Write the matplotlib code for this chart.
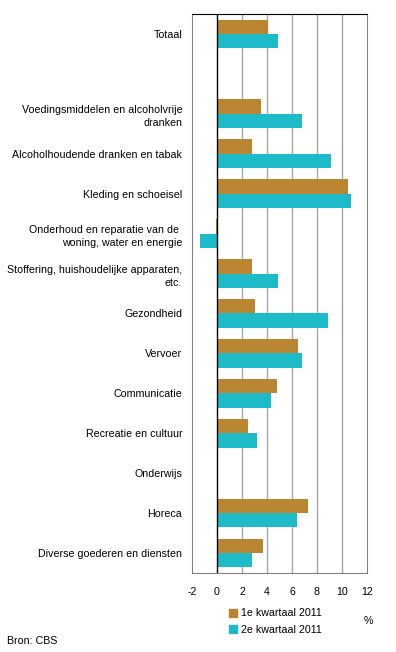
import matplotlib
matplotlib.use("Agg")
import matplotlib.pyplot as plt
from matplotlib.patches import Patch
import numpy as np

plt.rcParams['font.family'] = ['Liberation Sans', 'DejaVu Sans']

categories = ['Totaal', '',
              'Voedingsmiddelen en alcoholvrije\ndranken',
              'Alcoholhoudende dranken en tabak',
              'Kleding en schoeisel',
              'Onderhoud en reparatie van de \nwoning, water en energie',
              'Stoffering, huishoudelijke apparaten,\netc.',
              'Gezondheid',
              'Vervoer',
              'Communicatie',
              'Recreatie en cultuur',
              'Onderwijs',
              'Horeca',
              'Diverse goederen en diensten']
q1 = [4.1, 0, 3.5, 2.8, 10.5, -0.1, 2.8, 3.0, 6.5, 4.8, 2.5, 0, 7.3, 3.7]
q2 = [4.9, 0, 6.8, 9.1, 10.7, -1.4, 4.9, 8.9, 6.8, 4.3, 3.2, 0, 6.4, 2.8]
series_names = ['1e kwartaal 2011', '2e kwartaal 2011']
xticks = [-2, 0, 2, 4, 6, 8, 10, 12]

brown = '#BA8530'
teal = '#1DBBC7'
fs = 7.7

fig = plt.figure(figsize=(3.96, 6.52), dpi=100)
ax = fig.add_axes([192/396, 1-573/652, 175/396, 559/652])

y = np.arange(len(categories))
h = 0.36
ax.barh(y - h/2, q1, height=h, color=brown, zorder=3)
ax.barh(y + h/2, q2, height=h, color=teal, zorder=3)

ax.set_xlim(-2, 12)
ax.set_ylim(len(categories) - 0.5, -0.5)
ax.set_xticks(xticks)
ax.set_xticklabels([str(t) for t in xticks], fontsize=fs)
ax.set_yticks(y)
ax.set_yticklabels(categories, fontsize=fs, ha='right', multialignment='right',
                   linespacing=1.45)
ax.tick_params(axis='x', length=0, pad=10)
ax.tick_params(axis='y', length=0, pad=7)

for t in xticks[2:-1]:
    ax.axvline(t, color='#A6A6A6', lw=1, zorder=1)
ax.axvline(0, color='black', lw=1, zorder=4)

for s in ['left', 'right', 'bottom']:
    ax.spines[s].set_color('#808080')
ax.spines['top'].set_color('black')

handles = [Patch(color=brown), Patch(color=teal)]
fig.legend(handles, series_names, loc='upper left', bbox_to_anchor=(224/396, 1-603/652),
           frameon=False, fontsize=fs, handlelength=0.75, handleheight=0.75,
           handletextpad=0.3, labelspacing=0.6, borderpad=0)

fig.text(368/396, 1-621/652, '%', fontsize=fs, ha='center', va='center')
fig.text(7/396, 1-641/652, 'Bron: CBS', fontsize=fs, ha='left', va='center')

fig.savefig('out.png', dpi=100)
